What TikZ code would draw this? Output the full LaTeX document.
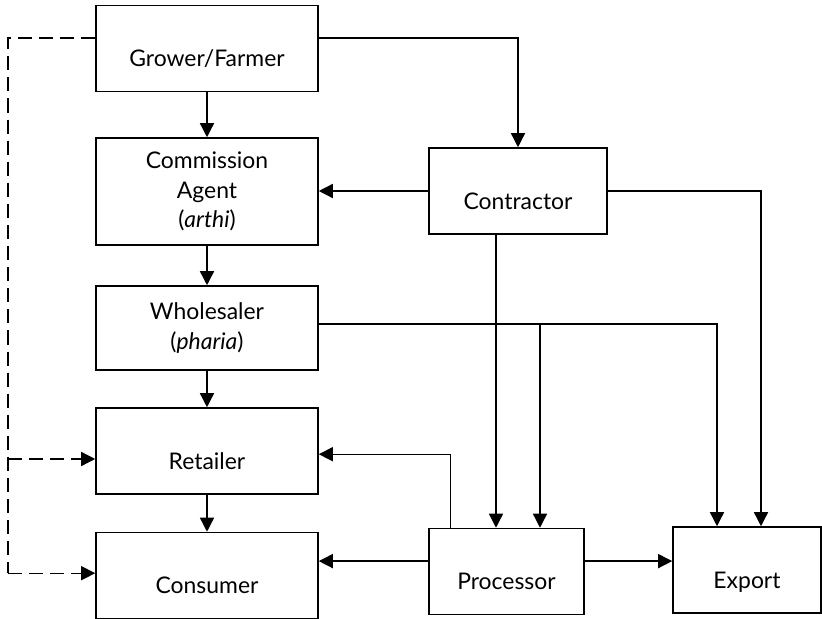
\documentclass[tikz,border=0pt]{standalone}
\usepackage{fontspec}
\setmainfont{Lato}
\usetikzlibrary{arrows.meta}
\begin{document}
\begin{tikzpicture}[line width=1pt, >={Triangle[length=10pt,width=10pt]},
  every node/.style={font=\fontsize{16.3}{21}\selectfont},
  box/.style={draw,line width=1.1pt,inner sep=0pt,minimum width=5.55cm,minimum height=2.15cm,align=center},
  low/.style={text height=1.4cm,text depth=0.5cm}]
\useasboundingbox (0,0) rectangle (20.55,-15.475);
\node[box,low] (grower) at (5.175,-1.2125) {Grower/Farmer};
\node[box,minimum height=2.675cm] (agent) at (5.175,-4.7875) {Commission\\Agent\\(\textit{arthi})};
\node[box,minimum height=2.1cm] (whole) at (5.175,-8.2) {Wholesaler\\(\textit{pharia})};
\node[box,low] (retail) at (5.175,-11.275) {Retailer};
\node[box,low] (consumer) at (5.175,-14.3875) {Consumer};
\node[box,low,minimum width=4.45cm] (contract) at (12.95,-4.775) {Contractor};
\node[box,low,minimum width=3.875cm] (proc) at (12.6625,-14.2875) {Processor};
\node[box,low,minimum width=3.7cm] (export) at (18.675,-14.25) {Export};
% main chain
\draw[->] (grower) -- (agent);
\draw[->] (agent) -- (whole);
\draw[->] (whole) -- (retail);
\draw[->] (retail) -- (consumer);
% contractor links
\draw[->] ([yshift=.26cm]grower.east) -| (contract.north);
\draw[->] (contract.west) -- (contract.west -| agent.east);
\draw[->] (contract.east) -| ([xshift=.35cm]export.north);
\draw[->] ([xshift=-.55cm]contract.south) -- ([xshift=-.55cm]contract.south |- proc.north);
% wholesaler links
\coordinate (wj) at (13.5,-8.1);
\draw[->] ([yshift=.1cm]whole.east) -| ([xshift=-.75cm]export.north);
\draw[->] (wj) -- (wj |- proc.north);
% processor links
\draw[->] ([xshift=.55cm]proc.north west) |- ([yshift=-.08cm]retail.east);
\draw[->] ([yshift=.26cm]proc.west) -- ([yshift=.26cm]proc.west -| consumer.east);
\draw[->] ([yshift=.26cm]proc.east) -- ([yshift=.26cm]proc.east -| export.west);
% direct sales (dashed)
\coordinate (dl) at (0.2,-14.33);
\draw[dash pattern=on 10pt off 5pt] ([yshift=.26cm]grower.west) -| (dl);
\draw[->,dash pattern=on 10pt off 5pt] (dl) -- (dl -| consumer.west);
\draw[->,dash pattern=on 10pt off 5pt] ([yshift=-.2cm]dl |- retail.west) -- ([yshift=-.2cm]retail.west);
\end{tikzpicture}
\end{document}
